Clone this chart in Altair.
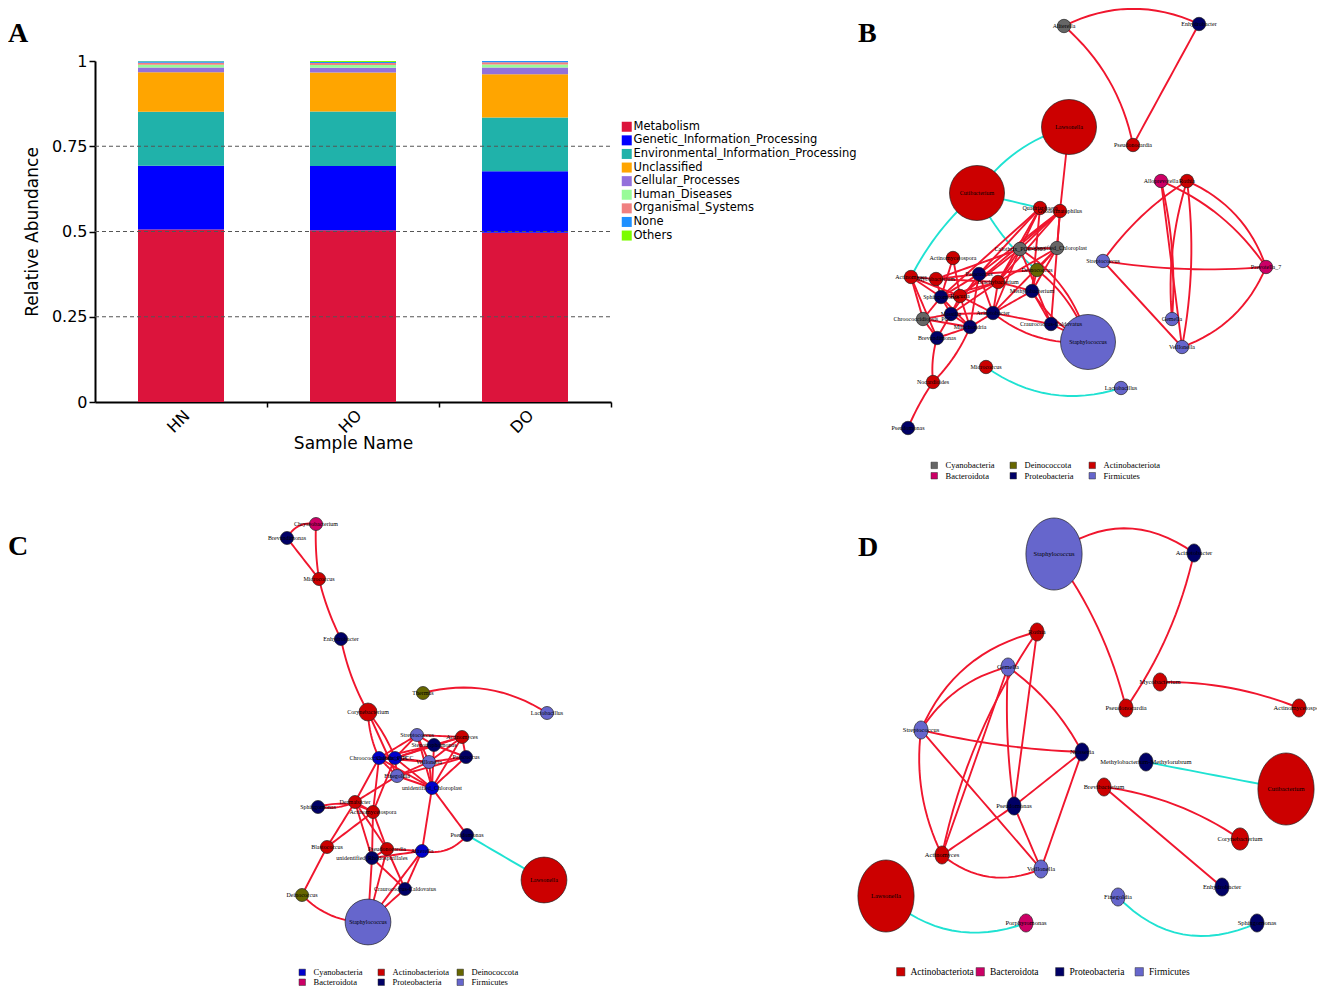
import altair as alt
import pandas as pd

# ---------------- Panel A : KEGG level-1 relative abundance ----------------
samples = ["HN", "HO", "DO"]
categories = ["Metabolism", "Genetic_Information_Processing",
              "Environmental_Information_Processing", "Unclassified",
              "Cellular_Processes", "Human_Diseases", "Organismal_Systems",
              "None", "Others"]
abund_HN = [0.506, 0.187, 0.158, 0.116, 0.014, 0.008, 0.006, 0.004, 0.001]
abund_HO = [0.504, 0.188, 0.160, 0.114, 0.014, 0.008, 0.006, 0.003, 0.003]
abund_DO = [0.496, 0.181, 0.157, 0.127, 0.020, 0.009, 0.006, 0.004, 0.000]
y_ticks = [0, 0.25, 0.5, 0.75, 1]
grid_levels = [0.25, 0.5, 0.75]

# ---------------- Panel B network (HN) ----------------
b_names = ["Aliterella", "Enhydrobacter", "Pseudonocardia", "Lawsonella", "Cutibacterium",
           "Alloprevotella", "Rothia", "Quadrisphaera", "Geodermatophilus", "Calothrix_PCC-6303",
           "unidentified_Chloroplast", "Deinococcus", "Actinomycetospora", "Actinomyces",
           "Mycobacterium", "Paracoccus", "Brachybacterium", "Methylobacterium", "Sphingomonas",
           "Kocuria", "Massilia", "Chroococcidiopsis_PCC", "Acinetobacter", "Mitochondria",
           "Brevundimonas", "Craurococcus-Caldovatus", "Staphylococcus", "Micrococcus",
           "Lactobacillus", "Nocardioides", "Pseudomonas", "Streptococcus", "Prevotella_7",
           "Gemella", "Veillonella"]
b_phylum = ["Cyanobacteria", "Proteobacteria", "Actinobacteriota", "Actinobacteriota", "Actinobacteriota",
            "Bacteroidota", "Actinobacteriota", "Actinobacteriota", "Actinobacteriota", "Cyanobacteria",
            "Cyanobacteria", "Deinococcota", "Actinobacteriota", "Actinobacteriota",
            "Actinobacteriota", "Proteobacteria", "Actinobacteriota", "Proteobacteria", "Proteobacteria",
            "Actinobacteriota", "Proteobacteria", "Cyanobacteria", "Proteobacteria", "Proteobacteria",
            "Proteobacteria", "Proteobacteria", "Firmicutes", "Actinobacteriota",
            "Firmicutes", "Actinobacteriota", "Proteobacteria", "Firmicutes", "Bacteroidota",
            "Firmicutes", "Firmicutes"]
b_x = [184, 319, 253, 189, 97, 281, 307, 160, 180, 140, 177, 157, 73, 31, 56, 99, 118, 152, 61,
       80, 71, 43, 113, 90, 57, 171, 208, 106, 241, 53, 28, 223, 386, 292, 302]
b_y = [26, 24, 145, 127, 193, 181, 181, 208, 211, 249, 248, 270, 258, 277, 279, 274, 282, 291, 297,
       296, 314, 319, 313, 327, 338, 324, 342, 367, 388, 382, 428, 261, 267, 319, 347]
b_abund = [0.01, 0.01, 0.01, 0.30, 0.30, 0.01, 0.01, 0.01, 0.01, 0.01, 0.01, 0.01, 0.01, 0.01,
           0.01, 0.01, 0.01, 0.01, 0.01, 0.01, 0.01, 0.01, 0.01, 0.01, 0.01, 0.01, 0.30, 0.01,
           0.01, 0.01, 0.01, 0.01, 0.01, 0.01, 0.01]
b_edges = [
    ("Aliterella", "Enhydrobacter", "positive"), ("Aliterella", "Pseudonocardia", "positive"),
    ("Enhydrobacter", "Pseudonocardia", "positive"),
    ("Lawsonella", "Cutibacterium", "negative"), ("Cutibacterium", "Quadrisphaera", "negative"),
    ("Cutibacterium", "Actinomyces", "negative"), ("Cutibacterium", "Deinococcus", "negative"),
    ("Micrococcus", "Lactobacillus", "negative"),
    ("Lawsonella", "Geodermatophilus", "positive"),
    ("Rothia", "Streptococcus", "positive"), ("Rothia", "Gemella", "positive"),
    ("Rothia", "Veillonella", "positive"), ("Rothia", "Prevotella_7", "positive"),
    ("Alloprevotella", "Veillonella", "positive"), ("Alloprevotella", "Prevotella_7", "positive"),
    ("Alloprevotella", "Gemella", "positive"), ("Streptococcus", "Prevotella_7", "positive"),
    ("Streptococcus", "Veillonella", "positive"), ("Veillonella", "Prevotella_7", "positive"),
    ("Quadrisphaera", "Paracoccus", "positive"), ("Quadrisphaera", "Brachybacterium", "positive"),
    ("Quadrisphaera", "Calothrix_PCC-6303", "positive"), ("Quadrisphaera", "Sphingomonas", "positive"),
    ("Quadrisphaera", "Methylobacterium", "positive"),
    ("Geodermatophilus", "unidentified_Chloroplast", "positive"), ("Geodermatophilus", "Brachybacterium", "positive"),
    ("Geodermatophilus", "Paracoccus", "positive"), ("Geodermatophilus", "Calothrix_PCC-6303", "positive"),
    ("Geodermatophilus", "Craurococcus-Caldovatus", "positive"), ("Geodermatophilus", "Kocuria", "positive"),
    ("Calothrix_PCC-6303", "unidentified_Chloroplast", "positive"), ("Calothrix_PCC-6303", "Brachybacterium", "positive"),
    ("Calothrix_PCC-6303", "Acinetobacter", "positive"), ("Calothrix_PCC-6303", "Mycobacterium", "positive"),
    ("Calothrix_PCC-6303", "Kocuria", "positive"), ("Calothrix_PCC-6303", "Staphylococcus", "positive"),
    ("unidentified_Chloroplast", "Deinococcus", "positive"), ("unidentified_Chloroplast", "Methylobacterium", "positive"),
    ("unidentified_Chloroplast", "Acinetobacter", "positive"), ("unidentified_Chloroplast", "Brachybacterium", "positive"),
    ("Deinococcus", "Staphylococcus", "positive"), ("Deinococcus", "Methylobacterium", "positive"),
    ("Deinococcus", "Paracoccus", "positive"),
    ("Actinomycetospora", "Kocuria", "positive"), ("Actinomycetospora", "Sphingomonas", "positive"),
    ("Actinomyces", "Mycobacterium", "positive"), ("Actinomyces", "Sphingomonas", "positive"),
    ("Actinomyces", "Brevundimonas", "positive"), ("Actinomyces", "Kocuria", "positive"),
    ("Actinomyces", "Chroococcidiopsis_PCC", "positive"),
    ("Mycobacterium", "Paracoccus", "positive"), ("Mycobacterium", "Sphingomonas", "positive"),
    ("Mycobacterium", "Brachybacterium", "positive"),
    ("Paracoccus", "Sphingomonas", "positive"), ("Paracoccus", "Massilia", "positive"),
    ("Paracoccus", "Acinetobacter", "positive"), ("Paracoccus", "Mitochondria", "positive"),
    ("Brachybacterium", "Sphingomonas", "positive"), ("Brachybacterium", "Kocuria", "positive"),
    ("Brachybacterium", "Methylobacterium", "positive"), ("Brachybacterium", "Acinetobacter", "positive"),
    ("Brachybacterium", "Massilia", "positive"),
    ("Methylobacterium", "Craurococcus-Caldovatus", "positive"), ("Methylobacterium", "Staphylococcus", "positive"),
    ("Methylobacterium", "Acinetobacter", "positive"),
    ("Sphingomonas", "Kocuria", "positive"), ("Sphingomonas", "Massilia", "positive"),
    ("Sphingomonas", "Chroococcidiopsis_PCC", "positive"), ("Sphingomonas", "Mitochondria", "positive"),
    ("Kocuria", "Massilia", "positive"), ("Kocuria", "Acinetobacter", "positive"),
    ("Kocuria", "Mitochondria", "positive"),
    ("Massilia", "Chroococcidiopsis_PCC", "positive"), ("Massilia", "Mitochondria", "positive"),
    ("Massilia", "Brevundimonas", "positive"), ("Massilia", "Acinetobacter", "positive"),
    ("Chroococcidiopsis_PCC", "Brevundimonas", "positive"), ("Chroococcidiopsis_PCC", "Mitochondria", "positive"),
    ("Acinetobacter", "Mitochondria", "positive"), ("Acinetobacter", "Craurococcus-Caldovatus", "positive"),
    ("Acinetobacter", "Staphylococcus", "positive"),
    ("Mitochondria", "Brevundimonas", "positive"), ("Mitochondria", "Nocardioides", "positive"),
    ("Brevundimonas", "Nocardioides", "positive"),
    ("Craurococcus-Caldovatus", "Staphylococcus", "positive"),
    ("Craurococcus-Caldovatus", "Calothrix_PCC-6303", "positive"),
    ("Nocardioides", "Pseudomonas", "positive"),
]

# ---------------- Panel C network (HO) ----------------
c_names = ["Chryseobacterium", "Brevundimonas", "Micrococcus", "Enhydrobacter", "Corynebacterium",
           "Thermus", "Lactobacillus", "Streptococcus", "Actinomyces", "Stenotrophomonas",
           "Paracoccus", "Chroococcidiopsis_PCC", "Calothrix_PCC", "Veillonella", "Finegoldia",
           "unidentified_Chloroplast", "Dermabacter", "Sphingomonas", "Actinomycetospora",
           "Pseudomonas", "Lawsonella", "Blastococcus", "Pseudonocardia", "Aliterella",
           "unidentified_Rhodospirillales", "Craurococcus-Caldovatus", "Deinococcus", "Staphylococcus"]
c_phylum = ["Bacteroidota", "Proteobacteria", "Actinobacteriota", "Proteobacteria", "Actinobacteriota",
            "Deinococcota", "Firmicutes", "Firmicutes", "Actinobacteriota", "Proteobacteria",
            "Proteobacteria", "Cyanobacteria", "Cyanobacteria", "Firmicutes", "Firmicutes",
            "Cyanobacteria", "Actinobacteriota", "Proteobacteria", "Actinobacteriota",
            "Proteobacteria", "Actinobacteriota", "Actinobacteriota", "Actinobacteriota", "Cyanobacteria",
            "Proteobacteria", "Proteobacteria", "Deinococcota", "Firmicutes"]
c_x = [66, 37, 69, 91, 118, 173, 297, 167, 212, 184, 216, 129, 145, 179, 147, 182, 105, 68, 123,
       217, 294, 77, 137, 172, 122, 155, 52, 118]
c_y = [24, 38, 79, 139, 212, 193, 213, 235, 237, 245, 257, 258, 258, 262, 276, 288, 302, 307, 312,
       335, 380, 347, 349, 351, 358, 389, 395, 422]
c_abund = [0.01, 0.01, 0.01, 0.01, 0.029, 0.01, 0.01, 0.01, 0.01, 0.01, 0.01, 0.01, 0.01, 0.01,
           0.01, 0.01, 0.01, 0.01, 0.01, 0.01, 0.25, 0.01, 0.01, 0.01, 0.01, 0.01, 0.01, 0.25]
c_edges = [
    ("Chryseobacterium", "Brevundimonas", "positive"), ("Chryseobacterium", "Micrococcus", "positive"),
    ("Brevundimonas", "Micrococcus", "positive"), ("Micrococcus", "Enhydrobacter", "positive"),
    ("Enhydrobacter", "Corynebacterium", "positive"), ("Thermus", "Lactobacillus", "positive"),
    ("Corynebacterium", "Chroococcidiopsis_PCC", "positive"), ("Corynebacterium", "Calothrix_PCC", "positive"),
    ("Corynebacterium", "Finegoldia", "positive"),
    ("Streptococcus", "Stenotrophomonas", "positive"), ("Streptococcus", "Chroococcidiopsis_PCC", "positive"),
    ("Streptococcus", "Calothrix_PCC", "positive"), ("Streptococcus", "Veillonella", "positive"),
    ("Streptococcus", "unidentified_Chloroplast", "positive"), ("Streptococcus", "Actinomyces", "positive"),
    ("Actinomyces", "Stenotrophomonas", "positive"), ("Actinomyces", "Paracoccus", "positive"),
    ("Actinomyces", "Veillonella", "positive"), ("Actinomyces", "unidentified_Chloroplast", "positive"),
    ("Actinomyces", "Calothrix_PCC", "positive"),
    ("Stenotrophomonas", "Chroococcidiopsis_PCC", "positive"), ("Stenotrophomonas", "Calothrix_PCC", "positive"),
    ("Stenotrophomonas", "Paracoccus", "positive"), ("Stenotrophomonas", "unidentified_Chloroplast", "positive"),
    ("Paracoccus", "Veillonella", "positive"), ("Paracoccus", "unidentified_Chloroplast", "positive"),
    ("Paracoccus", "Finegoldia", "positive"),
    ("Chroococcidiopsis_PCC", "Calothrix_PCC", "positive"), ("Chroococcidiopsis_PCC", "Finegoldia", "positive"),
    ("Chroococcidiopsis_PCC", "Veillonella", "positive"), ("Chroococcidiopsis_PCC", "unidentified_Chloroplast", "positive"),
    ("Calothrix_PCC", "Finegoldia", "positive"), ("Calothrix_PCC", "Veillonella", "positive"),
    ("Calothrix_PCC", "unidentified_Chloroplast", "positive"),
    ("Veillonella", "Finegoldia", "positive"), ("Veillonella", "unidentified_Chloroplast", "positive"),
    ("Finegoldia", "unidentified_Chloroplast", "positive"),
    ("unidentified_Chloroplast", "Pseudomonas", "positive"), ("unidentified_Chloroplast", "Aliterella", "positive"),
    ("Aliterella", "Pseudomonas", "positive"),
    ("Chroococcidiopsis_PCC", "Dermabacter", "positive"), ("Chroococcidiopsis_PCC", "Actinomycetospora", "positive"),
    ("Calothrix_PCC", "Actinomycetospora", "positive"), ("Finegoldia", "Dermabacter", "positive"),
    ("Dermabacter", "Sphingomonas", "positive"), ("Dermabacter", "Actinomycetospora", "positive"),
    ("Dermabacter", "Blastococcus", "positive"), ("Dermabacter", "Pseudonocardia", "positive"),
    ("Dermabacter", "unidentified_Rhodospirillales", "positive"),
    ("Actinomycetospora", "Sphingomonas", "positive"), ("Actinomycetospora", "Blastococcus", "positive"),
    ("Actinomycetospora", "Pseudonocardia", "positive"),
    ("Actinomycetospora", "unidentified_Rhodospirillales", "positive"),
    ("Blastococcus", "Deinococcus", "positive"), ("Deinococcus", "Staphylococcus", "positive"),
    ("Pseudonocardia", "Aliterella", "positive"), ("Pseudonocardia", "unidentified_Rhodospirillales", "positive"),
    ("Pseudonocardia", "Craurococcus-Caldovatus", "positive"), ("Pseudonocardia", "Staphylococcus", "positive"),
    ("unidentified_Rhodospirillales", "Aliterella", "positive"),
    ("unidentified_Rhodospirillales", "Craurococcus-Caldovatus", "positive"),
    ("unidentified_Rhodospirillales", "Staphylococcus", "positive"),
    ("Aliterella", "Craurococcus-Caldovatus", "positive"), ("Aliterella", "Staphylococcus", "positive"),
    ("Craurococcus-Caldovatus", "Staphylococcus", "positive"),
    ("Pseudomonas", "Lawsonella", "negative"),
]

# ---------------- Panel D network (DO) ----------------
d_names = ["Staphylococcus", "Acinetobacter", "Rothia", "Gemella", "Mycobacterium", "Pseudonocardia",
           "Actinomycetospora", "Streptococcus", "Neisseria", "Methylobacterium-Methylorubrum",
           "Cutibacterium", "Brevibacterium", "Pseudomonas", "Corynebacterium", "Actinomyces",
           "Veillonella", "Lawsonella", "Enhydrobacter", "Finegoldia", "Porphyromonas", "Sphingomonas"]
d_phylum = ["Firmicutes", "Proteobacteria", "Actinobacteriota", "Firmicutes", "Actinobacteriota",
            "Actinobacteriota", "Actinobacteriota", "Firmicutes", "Proteobacteria", "Proteobacteria",
            "Actinobacteriota", "Actinobacteriota", "Proteobacteria", "Actinobacteriota", "Actinobacteriota",
            "Firmicutes", "Actinobacteriota", "Proteobacteria", "Firmicutes", "Bacteroidota", "Proteobacteria"]
d_x = [204, 344, 187, 158, 310, 276, 449, 71, 232, 296, 436, 254, 164, 390, 92, 191, 36, 372, 268, 176, 407]
d_y = [54, 53, 132, 167, 182, 208, 208, 230, 252, 262, 289, 287, 306, 339, 355, 369, 396, 387, 397, 423, 423]
d_abund = [0.30, 0.01, 0.01, 0.01, 0.01, 0.01, 0.01, 0.01, 0.01, 0.01, 0.30, 0.01, 0.01, 0.02, 0.01,
           0.01, 0.30, 0.01, 0.01, 0.01, 0.01]
d_edges = [
    ("Staphylococcus", "Acinetobacter", "positive"), ("Staphylococcus", "Pseudonocardia", "positive"),
    ("Acinetobacter", "Pseudonocardia", "positive"), ("Mycobacterium", "Actinomycetospora", "positive"),
    ("Rothia", "Streptococcus", "positive"), ("Rothia", "Actinomyces", "positive"),
    ("Rothia", "Pseudomonas", "positive"),
    ("Gemella", "Streptococcus", "positive"), ("Gemella", "Pseudomonas", "positive"),
    ("Gemella", "Neisseria", "positive"), ("Gemella", "Actinomyces", "positive"),
    ("Streptococcus", "Neisseria", "positive"), ("Streptococcus", "Veillonella", "positive"),
    ("Streptococcus", "Actinomyces", "positive"), ("Actinomyces", "Pseudomonas", "positive"),
    ("Actinomyces", "Veillonella", "positive"), ("Pseudomonas", "Neisseria", "positive"),
    ("Pseudomonas", "Veillonella", "positive"), ("Neisseria", "Veillonella", "positive"),
    ("Methylobacterium-Methylorubrum", "Cutibacterium", "negative"),
    ("Brevibacterium", "Corynebacterium", "positive"), ("Brevibacterium", "Enhydrobacter", "positive"),
    ("Lawsonella", "Porphyromonas", "negative"), ("Finegoldia", "Sphingomonas", "negative"),
]

# ---------------- styling (not data) ----------------
CAT_COLORS = ["#DC143C", "#0000FF", "#20B2AA", "#FFA500", "#9370DB", "#98FB98", "#F08080", "#1E90FF", "#7CFC00"]
RED, CYAN = "#F0162E", "#1FE2D2"
B_BEND = {("Aliterella", "Enhydrobacter"): -0.24, ("Aliterella", "Pseudonocardia"): -0.17,
          ("Lawsonella", "Cutibacterium"): 0.18, ("Cutibacterium", "Actinomyces"): 0.1,
          ("Cutibacterium", "Deinococcus"): 0.12, ("Micrococcus", "Lactobacillus"): 0.25,
          ("Rothia", "Streptococcus"): 0.1, ("Rothia", "Prevotella_7"): -0.22,
          ("Alloprevotella", "Prevotella_7"): -0.15, ("Veillonella", "Prevotella_7"): 0.22,
          ("Streptococcus", "Prevotella_7"): 0.06, ("Rothia", "Gemella"): 0.1,
          ("Rothia", "Veillonella"): -0.08, ("Alloprevotella", "Gemella"): -0.08,
          ("Acinetobacter", "Staphylococcus"): 0.2, ("Calothrix_PCC-6303", "Staphylococcus"): -0.2,
          ("Methylobacterium", "Staphylococcus"): 0.15, ("Deinococcus", "Staphylococcus"): -0.15,
          ("Nocardioides", "Pseudomonas"): 0.05, ("Brevundimonas", "Nocardioides"): 0.1,
          ("Mitochondria", "Nocardioides"): -0.1}
C_BEND = {("Chryseobacterium", "Brevundimonas"): 0.35, ("Thermus", "Lactobacillus"): -0.22,
          ("Deinococcus", "Staphylococcus"): 0.22, ("Aliterella", "Pseudomonas"): 0.3,
          ("Micrococcus", "Enhydrobacter"): 0.06, ("Enhydrobacter", "Corynebacterium"): 0.08,
          ("Chryseobacterium", "Micrococcus"): 0.05, ("Actinomycetospora", "Sphingomonas"): 0.2,
          ("Dermabacter", "Sphingomonas"): -0.15, ("Corynebacterium", "Chroococcidiopsis_PCC"): 0.1,
          ("Corynebacterium", "Calothrix_PCC"): -0.08}
D_BEND = {("Staphylococcus", "Acinetobacter"): -0.36, ("Staphylococcus", "Pseudonocardia"): -0.1,
          ("Acinetobacter", "Pseudonocardia"): -0.1, ("Mycobacterium", "Actinomycetospora"): -0.1,
          ("Rothia", "Streptococcus"): 0.25, ("Gemella", "Streptococcus"): 0.2,
          ("Gemella", "Neisseria"): -0.12, ("Actinomyces", "Veillonella"): 0.3,
          ("Streptococcus", "Actinomyces"): 0.15, ("Rothia", "Actinomyces"): 0.1,
          ("Streptococcus", "Neisseria"): 0.05, ("Lawsonella", "Porphyromonas"): 0.3,
          ("Finegoldia", "Sphingomonas"): 0.35, ("Brevibacterium", "Corynebacterium"): -0.12,
          ("Gemella", "Pseudomonas"): 0.05}

OX, OY = 8, 8  # page margin: chart origin on the page
W, H = 1309, 980

# ---------------- Panel A layers ----------------
rows = []
for s, vals in zip(samples, [abund_HN, abund_HO, abund_DO]):
    for i, (c, v) in enumerate(zip(categories, vals)):
        if v > 0:
            rows.append({"sample": s, "category": c, "value": v, "idx": i})
dfA = pd.DataFrame(rows)

xA = alt.Scale(domain=samples, range=[95 - OX, 611 - OX], paddingInner=0.5, paddingOuter=0.25)
yA = alt.Scale(domain=[0, 1], range=[402 - OY, 61 - OY])

grid = alt.Chart(pd.DataFrame({"lvl": grid_levels, "a": [0] * 3, "b": [1] * 3})).mark_rule(
    color="#555555", strokeDash=[4, 3], strokeWidth=1.1
).encode(
    x=alt.X("a:Q", scale=alt.Scale(domain=[0, 1], range=[95 - OX, 611 - OX]), axis=None),
    x2="b:Q",
    y=alt.Y("lvl:Q", scale=yA, axis=None),
)

bars = alt.Chart(dfA).mark_bar(strokeWidth=0).encode(
    x=alt.X("sample:N", scale=xA, sort=samples, title="Sample Name",
            axis=alt.Axis(orient="bottom", offset=-(H - (402 - OY)), labelAngle=-45,
                          labelFont="DejaVu Sans", labelFontSize=16, labelColor="black",
                          titleFont="DejaVu Sans", titleFontSize=17, titleFontWeight="normal",
                          titleColor="black", titlePadding=0, domainColor="black", domainWidth=2,
                          tickColor="black", tickWidth=1.5, tickSize=5, tickOffset=86,
                          labelOffset=-86, labelPadding=0, grid=False)),
    y=alt.Y("value:Q", stack="zero", scale=yA, title="Relative Abundance",
            axis=alt.Axis(orient="left", offset=-(95 - OX), values=y_ticks, format=".2~f",
                          labelFont="DejaVu Sans", labelFontSize=16, labelColor="black",
                          titleFont="DejaVu Sans", titleFontSize=17, titleFontWeight="normal",
                          titleColor="black", titlePadding=10, domainColor="black", domainWidth=2,
                          tickColor="black", tickWidth=1.5, tickSize=6, labelPadding=2, grid=False)),
    color=alt.Color("category:N", scale=alt.Scale(domain=categories, range=CAT_COLORS),
                    legend=alt.Legend(orient="none", legendX=621 - OX, legendY=121 - OY, title=None,
                                      symbolType="square", symbolSize=100, symbolStrokeWidth=0,
                                      labelFont="DejaVu Sans", labelFontSize=11.5, labelColor="black",
                                      labelOffset=1, labelLimit=400, rowPadding=0.6, padding=0)),
    order=alt.Order("idx:Q", sort="ascending"),
)


# ---------------- network helper ----------------
def network(names, phylum, xs, ys, abund, edges, bends, frame, dom, rng, size_range,
            legend_kw, shape, font_size):
    x0, y0, w, h = frame
    sx = alt.Scale(domain=[0, w], range=[x0 - OX, x0 - OX + w])
    sy = alt.Scale(domain=[0, h], range=[y0 - OY, y0 - OY + h])
    pos = {n: (x, y) for n, x, y in zip(names, xs, ys)}
    erows = []
    steps = 16
    for k, (a, b, kind) in enumerate(edges):
        (x1, y1), (x2, y2) = pos[a], pos[b]
        bend = bends.get((a, b), 0.0)
        cx = (x1 + x2) / 2 - bend * (y2 - y1)
        cy = (y1 + y2) / 2 + bend * (x2 - x1)
        for j in range(steps + 1):
            t = j / steps
            erows.append({"eid": k, "t": t, "kind": kind,
                          "px": (1 - t) ** 2 * x1 + 2 * (1 - t) * t * cx + t ** 2 * x2,
                          "py": (1 - t) ** 2 * y1 + 2 * (1 - t) * t * cy + t ** 2 * y2})
    dfe = pd.DataFrame(erows)
    dfn = pd.DataFrame({"name": names, "phylum": phylum, "lx": xs, "ly": ys, "abund": abund})

    e = alt.Chart(dfe).mark_line(strokeWidth=1.9, strokeCap="round").encode(
        x=alt.X("px:Q", scale=sx, axis=None),
        y=alt.Y("py:Q", scale=sy, axis=None),
        detail="eid:N",
        order="t:Q",
        color=alt.Color("kind:N", scale=alt.Scale(domain=["positive", "negative"], range=[RED, CYAN]),
                        legend=None),
    )
    n = alt.Chart(dfn).mark_point(filled=True, shape=shape, stroke="#222222", strokeWidth=0.7,
                                  opacity=1).encode(
        x=alt.X("lx:Q", scale=sx, axis=None),
        y=alt.Y("ly:Q", scale=sy, axis=None),
        color=alt.Color("phylum:N", scale=alt.Scale(domain=dom, range=rng),
                        legend=alt.Legend(orient="none", title=None, symbolType="square",
                                          symbolStrokeColor="#333333", symbolStrokeWidth=0.5,
                                          symbolOpacity=1, labelFont="Liberation Serif",
                                          labelColor="black", labelLimit=300, gridAlign="all",
                                          direction="horizontal", padding=0, **legend_kw)),
        size=alt.Size("abund:Q", scale=alt.Scale(domain=[0.01, 0.30], range=size_range), legend=None),
    )
    t = alt.Chart(dfn).mark_text(font="Liberation Serif", fontSize=font_size, color="black").encode(
        x=alt.X("lx:Q", scale=sx, axis=None),
        y=alt.Y("ly:Q", scale=sy, axis=None),
        text="name:N",
    )
    return [e, n, t]


b_dom = ["Cyanobacteria", "Deinococcota", "Actinobacteriota", "Bacteroidota", "Proteobacteria", "Firmicutes"]
b_rng = ["#666666", "#666600", "#CC0000", "#CC0066", "#000066", "#6666CC"]
c_dom = ["Cyanobacteria", "Actinobacteriota", "Deinococcota", "Bacteroidota", "Proteobacteria", "Firmicutes"]
c_rng = ["#0000CC", "#CC0000", "#666600", "#CC0066", "#000066", "#6666CC"]
d_dom = ["Actinobacteriota", "Bacteroidota", "Proteobacteria", "Firmicutes"]
d_rng = ["#CC0000", "#CC0066", "#000066", "#6666CC"]
ELLIPSE = "M -0.78 0 A 0.78 1 0 1 0 0.78 0 A 0.78 1 0 1 0 -0.78 0 Z"

layersB = network(b_names, b_phylum, b_x, b_y, b_abund, b_edges, B_BEND, (880, 0, 420, 450),
                  b_dom, b_rng, [180, 3025],
                  dict(legendX=930 - OX, legendY=461 - OY, columns=3, symbolSize=42, labelFontSize=8.5,
                       labelOffset=7, columnPadding=6, rowPadding=1.5), "circle", 6)
layersC = network(c_names, c_phylum, c_x, c_y, c_abund, c_edges, C_BEND, (250, 500, 360, 460),
                  c_dom, c_rng, [170, 2500],
                  dict(legendX=298 - OX, legendY=968 - OY, columns=3, symbolSize=42, labelFontSize=8.5,
                       labelOffset=7, columnPadding=6, rowPadding=1.0), "circle", 6)
layersD = network(d_names, d_phylum, d_x, d_y, d_abund, d_edges, D_BEND, (850, 500, 470, 460),
                  d_dom, d_rng, [324, 5184],
                  dict(legendX=896 - OX, legendY=967 - OY, columns=4, symbolSize=70, labelFontSize=9.5,
                       labelOffset=5, columnPadding=0.5, rowPadding=0), ELLIPSE, 6.5)


def letter(ch, px, py):
    return alt.Chart(pd.DataFrame({"t": [ch]})).mark_text(
        font="Liberation Serif", fontWeight="bold", fontSize=28, align="left", baseline="alphabetic",
        color="black").encode(text="t:N", x=alt.value(px - OX), y=alt.value(py - OY))


letters = [letter("A", 8, 42), letter("B", 858, 42), letter("C", 8, 555), letter("D", 858, 556)]

chart = alt.layer(bars, grid, *layersB, *layersC, *layersD, *letters).resolve_scale(
    x="independent", y="independent", color="independent", size="independent"
).resolve_legend(color="independent").properties(
    width=W, height=H, padding=0, background="white",
    autosize=alt.AutoSizeParams(type="none")
).configure_view(stroke=None)

chart.save("out.html", embed_options={"renderer": "svg", "actions": False})
